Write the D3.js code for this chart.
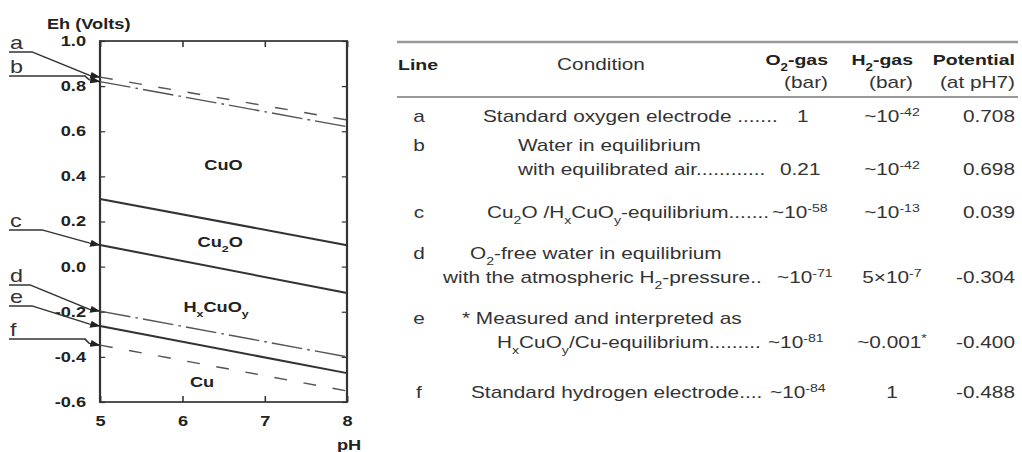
<!DOCTYPE html>
<html>
<head>
<meta charset="utf-8">
<title>Eh-pH diagram</title>
<script src="https://cdnjs.cloudflare.com/ajax/libs/d3/7.8.5/d3.min.js"></script>
<style>
  body { margin: 0; background: #fff; }
  svg { display: block; }
  text { font-family: "Liberation Sans", Arial, sans-serif; fill: #222; }
  .tick text, .axis-title, .region { font-size: 14px; font-weight: bold; }
  .tick line { stroke: #333; stroke-width: 1.2; }
  .domain { display: none; }
  .tbl { font-size: 16px; fill: #333; }
  .tbl-head { font-size: 15px; font-weight: bold; fill: #222; }
  .tag { font-size: 18px; fill: #333; }
</style>
</head>
<body>
<script>
// the scanned figure is stretched sideways, so draw in narrow units and stretch in x
var SX = 1.3, W = 1022, H = 452;
function rx(v) { return v / SX; }   // page pixel x -> drawing units

// ---- chart data ----
var phRange = [5, 8];
var ehRange = [-0.6, 1.0];
var xTicks = [5, 6, 7, 8];
var yTicks = [-0.6, -0.4, -0.2, 0.0, 0.2, 0.4, 0.6, 0.8, 1.0];

var lineNames = ["a", "b", "c", "d", "e", "f"];
var ehAtPh5 = [0.84, 0.82, 0.096, -0.197, -0.263, -0.348];
var ehAtPh8 = [0.65, 0.62, -0.117, -0.40, -0.472, -0.551];
var lineStyles = ["dash", "dashdot", "solid", "dashdot", "solid", "dash"];

// CuO / Cu2O boundary (pH 5, pH 8)
var boundaryEh = [0.30, 0.095];

var regionNames = ["CuO", "Cu_2O", "H_xCuO_y", "Cu"];
var regionPh = [6.5, 6.46, 6.41, 6.24];
var regionEh = [0.45, 0.11, -0.18, -0.51];

// ---- table data ----
var condLine1 = ["", "Water in equilibrium", "", "O_2-free water in equilibrium", "* Measured and interpreted as", ""];
var condLine2 = ["Standard oxygen electrode .......", "with equilibrated air............",
                 "Cu_2O /H_xCuO_y-equilibrium.......", "with the atmospheric H_2-pressure..",
                 "H_xCuO_y/Cu-equilibrium.........", "Standard hydrogen electrode...."];
var o2Gas = ["1", "0.21", "~10^{-58}", "~10^{-71}", "~10^{-81}", "~10^{-84}"];
var h2Gas = ["~10^{-42}", "~10^{-42}", "~10^{-13}", "5\u00d710^{-7}", "~0.001^{*}", "1"];
var potential = ["0.708", "0.698", "0.039", "-0.304", "-0.400", "-0.488"];

// ---- layout (page pixels) ----
var rowY = [122, 175, 218, 283, 348, 398];        // baseline of the line holding the values
var cond1X = [0, 518, 0, 470, 462, 0];
var cond2X = [483, 518, 487, 443, 497, 471];
var o2X = [797, 780, 772, 777, 768, 770];
// left labels: underline y, underline end
var tagY = [52, 76, 230, 285, 306, 339];
var tagEnd = [32, 85, 42, 30, 32, 85];

var svg = d3.select("body").append("svg")
    .attr("width", W).attr("height", H)
    .attr("viewBox", "0 0 " + (W / SX) + " " + H)
    .attr("preserveAspectRatio", "none");

// sub/superscript helper: "_c" -> subscript char, "^{..}" -> superscript
function rich(sel, str) {
  var re = /_(.)|\^\{([^}]*)\}|([^_^]+)/g, m;
  while ((m = re.exec(str))) {
    if (m[1]) sel.append("tspan").attr("baseline-shift", "sub").style("font-size", "68%").text(m[1]);
    else if (m[2]) sel.append("tspan").attr("baseline-shift", "super").style("font-size", "68%").text(m[2]);
    else sel.append("tspan").text(m[3]);
  }
  return sel;
}

var x = d3.scaleLinear().domain(phRange).range([rx(100), rx(347)]);
var y = d3.scaleLinear().domain(ehRange).range([402, 41]);

var fmt = function(d) { return d.toFixed(1); };

svg.append("g").attr("transform", "translate(" + x(5) + ",0)")
    .call(d3.axisLeft(y).tickValues(yTicks).tickSize(-4).tickSizeOuter(0).tickPadding(rx(14)).tickFormat(fmt));
svg.append("g").attr("transform", "translate(" + x(8) + ",0)")
    .call(d3.axisRight(y).tickValues(yTicks).tickSize(-4).tickSizeOuter(0).tickFormat(""));
svg.append("g").attr("transform", "translate(0," + y(-0.6) + ")")
    .call(d3.axisBottom(x).tickValues(xTicks).tickSize(-6).tickSizeOuter(0).tickPadding(14).tickFormat(d3.format("d")));
svg.append("g").attr("transform", "translate(0," + y(1.0) + ")")
    .call(d3.axisTop(x).tickValues(xTicks).tickSize(-6).tickSizeOuter(0).tickFormat(""));
svg.selectAll(".tick text").attr("fill", "#222");

// frame
svg.append("rect")
    .attr("x", x(5)).attr("y", y(1.0))
    .attr("width", x(8) - x(5)).attr("height", y(-0.6) - y(1.0))
    .attr("fill", "none").attr("stroke", "#333").attr("stroke-width", 1.7);

svg.append("text").attr("class", "axis-title").attr("x", rx(47)).attr("y", 29).text("Eh (Volts)");
svg.append("text").attr("class", "axis-title").attr("x", rx(337)).attr("y", 450).text("pH");

var line = d3.line().x(function(d) { return x(d[0]); }).y(function(d) { return y(d[1]); });
var dashes = { solid: null, dash: "10,13", dashdot: "24,4,2,4" };

svg.append("path")
    .attr("d", line([[5, boundaryEh[0]], [8, boundaryEh[1]]]))
    .attr("fill", "none").attr("stroke", "#333").attr("stroke-width", 2);

lineNames.forEach(function(n, i) {
  var st = lineStyles[i];
  svg.append("path")
      .attr("d", line([[5, ehAtPh5[i]], [8, ehAtPh8[i]]]))
      .attr("fill", "none")
      .attr("stroke", st == "solid" ? "#333" : "#555")
      .attr("stroke-width", st == "solid" ? 2 : 1.4)
      .attr("stroke-dasharray", dashes[st]);
});

regionNames.forEach(function(n, i) {
  rich(svg.append("text").attr("class", "region")
      .attr("x", x(regionPh[i])).attr("y", y(regionEh[i]) + 5)
      .attr("text-anchor", "middle").attr("fill", "#222"), n);
});

// arrow markers for the line labels
svg.append("defs").append("marker")
    .attr("id", "arr").attr("markerUnits", "userSpaceOnUse")
    .attr("markerWidth", 8).attr("markerHeight", 7)
    .attr("refX", 7).attr("refY", 3.5).attr("orient", "auto")
  .append("path").attr("d", "M0,0 L8,3.5 L0,7 Z").attr("fill", "#222");

lineNames.forEach(function(n, i) {
  var ty = y(ehAtPh5[i]), tx = x(5) - 0.5;
  svg.append("path")
      .attr("d", "M" + rx(9) + "," + tagY[i] + " H" + rx(tagEnd[i]) +
                 " L" + (tx - 8) + "," + (ty - 2) + " L" + tx + "," + ty)
      .attr("fill", "none").attr("stroke", "#333").attr("stroke-width", 1.3)
      .attr("marker-end", "url(#arr)");
  svg.append("text").attr("class", "tag").attr("x", rx(10)).attr("y", tagY[i] - 3).text(n);
});

// ---- table ----
var rule = [[42, 2.5], [97, 2.2]];
rule.forEach(function(r) {
  svg.append("line").attr("x1", rx(397)).attr("x2", rx(1018))
      .attr("y1", r[0]).attr("y2", r[0]).attr("stroke", "#999").attr("stroke-width", r[1]);
});

function head(str, xp, yp, anchor, bold) {
  rich(svg.append("text").attr("class", bold ? "tbl-head" : "tbl")
      .attr("x", rx(xp)).attr("y", yp).attr("text-anchor", anchor), str);
}
head("Line", 398, 70, "start", true);
head("Condition", 601, 70, "middle", false);
head("O_2-gas", 828, 65, "end", true);
head("(bar)", 828, 88, "end", false);
head("H_2-gas", 913, 65, "end", true);
head("(bar)", 913, 88, "end", false);
head("Potential", 1015, 65, "end", true);
head("(at pH7)", 1015, 88, "end", false);

lineNames.forEach(function(n, i) {
  var two = condLine1[i] !== "";
  var yTop = two ? rowY[i] - 24 : rowY[i];
  svg.append("text").attr("class", "tbl").attr("x", rx(419)).attr("y", yTop)
      .attr("text-anchor", "middle").text(n);
  if (two) {
    rich(svg.append("text").attr("class", "tbl").attr("x", rx(cond1X[i])).attr("y", yTop), condLine1[i]);
  }
  rich(svg.append("text").attr("class", "tbl").attr("x", rx(cond2X[i])).attr("y", rowY[i]), condLine2[i]);
  rich(svg.append("text").attr("class", "tbl").attr("x", rx(o2X[i])).attr("y", rowY[i]), o2Gas[i]);
  rich(svg.append("text").attr("class", "tbl").attr("x", rx(892)).attr("y", rowY[i])
      .attr("text-anchor", "middle"), h2Gas[i]);
  svg.append("text").attr("class", "tbl").attr("x", rx(1015)).attr("y", rowY[i])
      .attr("text-anchor", "end").text(potential[i]);
});
</script>
</body>
</html>
